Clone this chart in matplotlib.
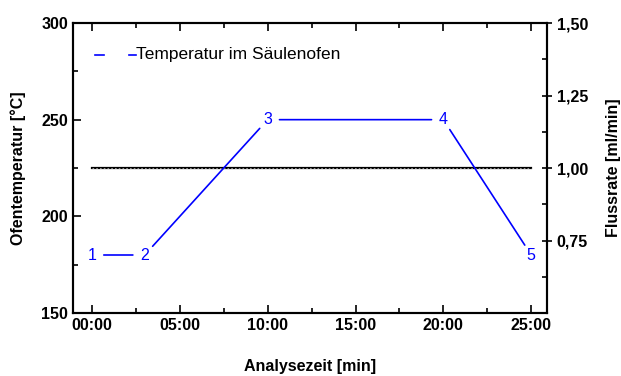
import matplotlib
matplotlib.use("Agg")
import matplotlib.pyplot as plt
from matplotlib.ticker import MultipleLocator, FixedLocator, FuncFormatter

plt.rcParams['font.family'] = ['Liberation Sans', 'DejaVu Sans']

# Data
temp_time = [0, 3, 10, 20, 25]          # minutes
temp_values = [180, 180, 250, 250, 180]  # °C
point_labels = ['1', '2', '3', '4', '5']
flow_time = [0, 25]
flow_values = [1.0, 1.0]
x_ticks = [0, 5, 10, 15, 20, 25]
x_ticklabels = ['00:00', '05:00', '10:00', '15:00', '20:00', '25:00']
left_ticks = [150, 200, 250, 300]
right_ticks = [0.75, 1.0, 1.25, 1.5]
legend_label = 'Temperatur im Säulenofen'

fig = plt.figure(figsize=(6.21, 3.76), dpi=100)
ax = fig.add_axes([73/621, 1-313/376, (547-73)/621, (313-23)/376])
ax2 = ax.twinx()

blue = '#0000ff'
fs_tick = 11.5
fs_label = 11.5

# flow line on right axis
ax2.plot(flow_time, flow_values, color='black', lw=1.6, zorder=2)
ax2.plot(flow_time, flow_values, color='#aaaaaa', lw=0.6, ls=(0, (2, 2.5)), zorder=3)

# temperature with numbered markers and gaps
for i in range(len(temp_time) - 1):
    ax.annotate('', xy=(temp_time[i+1], temp_values[i+1]), xytext=(temp_time[i], temp_values[i]),
                arrowprops=dict(arrowstyle='-', color=blue, lw=1.2, shrinkA=8.5, shrinkB=8.5))
for t, v, lab in zip(temp_time, temp_values, point_labels):
    ax.text(t, v, lab, color=blue, fontsize=11.5, ha='center', va='center')

ax.set_xlim(-1.08, 25.9)
ax.set_ylim(150, 300)
ax2.set_ylim(0.5, 1.5)

ax.set_zorder(ax2.get_zorder() + 1)
ax.patch.set_visible(False)

ax.xaxis.set_major_locator(FixedLocator(x_ticks))
ax.set_xticklabels(x_ticklabels)
ax.xaxis.set_minor_locator(MultipleLocator(2.5))
ax.yaxis.set_major_locator(FixedLocator(left_ticks))
ax.yaxis.set_minor_locator(MultipleLocator(25))
ax2.yaxis.set_major_locator(FixedLocator(right_ticks))
ax2.yaxis.set_minor_locator(MultipleLocator(0.125))
ax2.yaxis.set_major_formatter(FuncFormatter(lambda v, p: f'{v:.2f}'.replace('.', ',')))

ax.tick_params(axis='both', which='major', direction='in', length=6, width=1.2,
               labelsize=fs_tick, top=True, right=False)
ax.tick_params(axis='both', which='minor', direction='in', length=3.5, width=1.2, top=True, right=False)
ax2.tick_params(axis='y', which='major', direction='inout', length=7, width=1.2, labelsize=fs_tick)
ax2.tick_params(axis='y', which='minor', direction='in', length=3.5, width=1.2)
for a in (ax, ax2):
    for lab in a.get_xticklabels() + a.get_yticklabels():
        lab.set_fontweight('bold')
    for s in a.spines.values():
        s.set_linewidth(1.5)

ax.set_xlabel('Analysezeit [min]', fontsize=fs_label, fontweight='bold', labelpad=19)
ax.set_ylabel('Ofentemperatur [°C]', fontsize=fs_label, fontweight='bold', labelpad=11)
ax2.set_ylabel('Flussrate [ml/min]', fontsize=fs_label, fontweight='bold', labelpad=13, rotation=90)

# legend (manual)
ax.plot([0.046, 0.066], [0.89, 0.89], transform=ax.transAxes, color=blue, lw=1.2)
ax.plot([0.118, 0.133], [0.89, 0.89], transform=ax.transAxes, color=blue, lw=1.2)
ax.text(0.132, 0.89, legend_label, transform=ax.transAxes, fontsize=12.5, va='center', ha='left')

fig.savefig('out.png', dpi=100)
